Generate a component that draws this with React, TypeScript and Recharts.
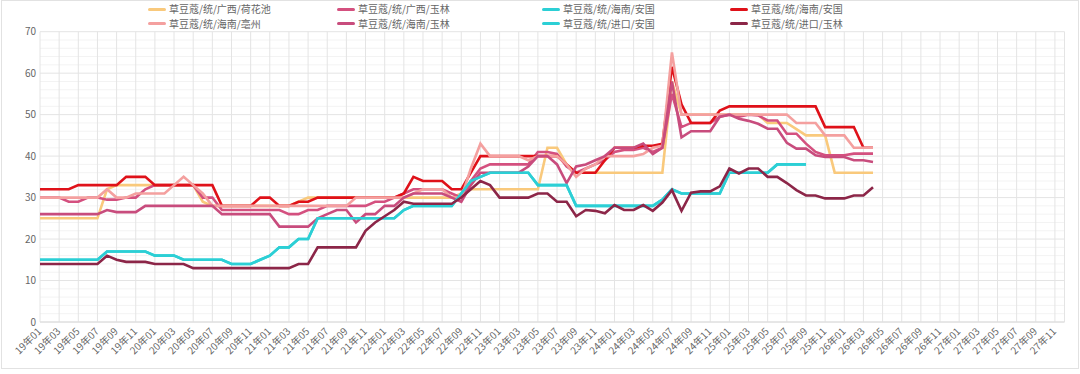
import React from 'react';
import { LineChart, Line, XAxis, YAxis, CartesianGrid, Legend } from 'recharts';

// 19年01 ... 27年12 (monthly categories)
const years = ['19', '20', '21', '22', '23', '24', '25', '26', '27'];
const monthNums = ['01', '02', '03', '04', '05', '06', '07', '08', '09', '10', '11', '12'];
const months = years.flatMap(y => monthNums.map(m => `${y}年${m}`));
const tickLabels = months.filter((_, i) => i % 2 === 0);

const yTicks = [0, 10, 20, 30, 40, 50, 60, 70];
const yMinorTicks = [2, 4, 6, 8, 12, 14, 16, 18, 22, 24, 26, 28, 32, 34, 36, 38, 42, 44, 46, 48, 52, 54, 56, 58, 62, 64, 66, 68];

// series values, 19年01 onwards
const hehuachi = [
  25, 25, 25, 25, 25, 25, 25, 32, 33, 33, 33, 33, 33, 33, 33, 33, 33, 29, 28, 28,
  28, 28, 28, 28, 28, 28, 28, 29, 30, 30, 30, 30, 30, 30, 30, 30, 30, 30, 30, 30,
  30, 30, 30, 30, 31, 32, 32, 32, 32, 32, 32, 32, 32, 42, 42, 38, 36, 36, 36, 36,
  36, 36, 36, 36, 36, 36, 58, 50, 50, 50, 50, 50, 50, 50, 50, 50, 48, 48, 48, 46.5,
  45, 45, 45, 36, 36, 36, 36, 36,
];
const guangxiYulin = [
  30, 30, 30, 29, 29, 30, 30, 29.5, 29.5, 30, 30, 32, 33, 33, 33, 33, 33, 30, 30, 27,
  27, 27, 27, 27, 27, 27, 26, 26, 27, 27, 28, 28, 28, 28, 28, 29, 29, 30, 31, 32,
  32, 32, 32, 31, 30, 34, 37, 38, 38, 38, 38, 38, 41, 41, 40.5, 37.5, 36, 37, 38, 39,
  41, 41.5, 41.5, 42, 41, 42, 55, 47, 48, 48, 48, 49.5, 50, 49.5, 50, 49.8, 48.6, 48.6, 45.4, 45.4,
  43, 41, 40.2, 40.2, 40.2, 40.6, 40.6, 40.6,
];
const hainanAnguoCyan = [
  15, 15, 15, 15, 15, 15, 15, 17, 17, 17, 17, 17, 16, 16, 16, 15, 15, 15, 15, 15,
  14, 14, 14, 15, 16, 18, 18, 20, 20, 25, 25, 25, 25, 25, 25, 25, 25, 25, 27, 28,
  28, 28, 28, 28, 31, 34, 35, 36, 36, 36, 36, 36, 33, 33, 33, 33, 28, 28, 28, 28,
  28, 28, 28, 28, 28, 29.5, 32, 31, 31, 31, 31, 31, 36, 36, 36, 36, 36, 38, 38, 38,
  38,
];
const hainanAnguoRed = [
  32, 32, 32, 32, 33, 33, 33, 33, 33, 35, 35, 35, 33, 33, 33, 33, 33, 33, 33, 28,
  28, 28, 28, 30, 30, 28, 28, 29, 29, 30, 30, 30, 30, 30, 30, 30, 30, 30, 31, 35,
  34, 34, 34, 32, 32, 36, 40, 40, 40, 40, 40, 40, 40, 40, 40, 38, 36, 36, 36, 39,
  42, 42, 42, 42.5, 42.5, 43, 61.5, 52.5, 48, 48, 48, 51, 52, 52, 52, 52, 52, 52, 52, 52,
  52, 52, 47, 47, 47, 47, 42, 42,
];
const haozhou = [
  30, 30, 30, 30, 30, 30, 30, 32, 30, 30, 31, 31, 31, 31, 33, 35, 33, 31, 28, 28,
  28, 28, 28, 28, 28, 28, 28, 28, 28, 28, 28, 28, 28, 30, 30, 30, 30, 30, 30, 31,
  32, 32, 32, 30, 30, 37, 43, 40, 40, 40, 40, 39, 40, 40, 40, 38, 35, 37, 38, 40,
  40, 40, 40, 40.5, 42, 42.5, 65, 50, 50, 50, 50, 50, 50, 50, 50, 50, 50, 50, 50, 48,
  48, 48, 45, 45, 45, 42, 42, 42,
];
const hainanYulin = [
  26, 26, 26, 26, 26, 26, 26, 27, 26.5, 26.5, 26.5, 28, 28, 28, 28, 28, 28, 28, 28, 26,
  26, 26, 26, 26, 26, 23, 23, 23, 23, 25, 26, 27, 27, 24, 26, 26, 28, 28, 30, 31,
  31, 31, 31, 30, 29, 33, 36, 36, 36, 36, 36, 37.5, 40, 40, 38, 33.5, 37.5, 38, 39, 40,
  42, 42, 42, 43, 40.5, 42, 58, 44.5, 46, 46, 46, 49.5, 50, 49, 48.5, 47.8, 46.6, 46.6, 43.2, 41.8,
  41.8, 40.2, 39.8, 39.8, 39.8, 39, 39, 38.6,
];
const jinkouAnguo = [
  15, 15, 15, 15, 15, 15, 15, 17, 17, 17, 17, 17, 16, 16, 16, 15, 15, 15, 15, 15,
  14, 14, 14, 15, 16, 18, 18, 20, 20, 25, 25, 25, 25, 25, 25, 25, 25, 25, 27, 28,
  28, 28, 28, 28, 31, 34, 35, 36, 36, 36, 36, 36, 33, 33, 33, 33, 28, 28, 28, 28,
  28, 28, 28, 28, 28, 29.5, 32, 31, 31, 31, 31, 31, 36, 36, 36, 36, 36, 38, 38, 38,
  38,
];
const jinkouYulin = [
  14, 14, 14, 14, 14, 14, 14, 16, 15, 14.5, 14.5, 14.5, 14, 14, 14, 14, 13, 13, 13, 13,
  13, 13, 13, 13, 13, 13, 13, 14, 14, 18, 18, 18, 18, 18, 22, 24, 25.5, 27, 29, 28.5,
  28.5, 28.5, 28.5, 28.5, 30, 32, 34, 33, 30, 30, 30, 30, 31, 31, 29, 29, 25.5, 27, 26.8, 26.2,
  28.2, 27, 27, 28.2, 26.8, 28.8, 31.8, 26.8, 31.2, 31.5, 31.5, 32.7, 37, 35.8, 37, 37, 35, 35, 33.5, 31.8,
  30.5, 30.5, 29.8, 29.8, 29.8, 30.5, 30.5, 32.5,
];

const series = [
  { key: 'hehuachi', name: '草豆蔻/统/广西/荷花池', color: '#F9C97C', values: hehuachi },
  { key: 'guangxiYulin', name: '草豆蔻/统/广西/玉林', color: '#D4507F', values: guangxiYulin },
  { key: 'hainanAnguoCyan', name: '草豆蔻/统/海南/安国', color: '#2CCFD5', values: hainanAnguoCyan },
  { key: 'hainanAnguoRed', name: '草豆蔻/统/海南/安国', color: '#DF1119', values: hainanAnguoRed },
  { key: 'haozhou', name: '草豆蔻/统/海南/亳州', color: '#F4A09F', values: haozhou },
  { key: 'hainanYulin', name: '草豆蔻/统/海南/玉林', color: '#C84C7D', values: hainanYulin },
  { key: 'jinkouAnguo', name: '草豆蔻/统/进口/安国', color: '#2CCFD5', values: jinkouAnguo },
  { key: 'jinkouYulin', name: '草豆蔻/统/进口/玉林', color: '#8C2648', values: jinkouYulin },
];

const data = months.map((m, i) => {
  const row: Record<string, string | number | null> = { month: m };
  series.forEach(s => { row[s.key] = s.values[i] ?? null; });
  return row;
});

const legendCols = [148, 337, 542, 730];
const font = '"Noto Sans CJK SC", "Noto Sans", sans-serif';

const LegendBox = () => (
  <div style={{ position: 'relative', width: 1080, height: 31.7, fontFamily: font }}>
    {series.map((s, i) => {
      const col = i % 4;
      const row = Math.floor(i / 4);
      return (
        <div key={s.key} style={{ position: 'absolute', left: legendCols[col], top: 2 + row * 14.6, height: 14.5, display: 'flex', alignItems: 'center' }}>
          <span style={{ display: 'inline-block', width: 18, height: 3, borderRadius: 2, background: s.color, marginRight: 3 }} />
          <span style={{ fontSize: 10, color: '#666', lineHeight: '14.5px', whiteSpace: 'nowrap' }}>{s.name}</span>
        </div>
      );
    })}
  </div>
);

const XTick = (props: any) => {
  const { x, y, payload } = props;
  return (
    <text x={x} y={y} dy="0.3em" transform={`rotate(-45, ${x}, ${y})`} textAnchor="end" fontSize={10} fill="#666" fontFamily={font}>
      {payload.value}
    </text>
  );
};

const minorGrid = (args: any) => {
  const { yAxis, offset } = args;
  if (yAxis && typeof yAxis.scale === 'function') return yMinorTicks.map(v => yAxis.scale(v));
  return yMinorTicks.map(v => offset.top + offset.height * (1 - v / 70));
};

export default function App() {
  return (
    <div style={{ position: 'absolute', left: 0, top: 0, width: 1080, height: 374, background: '#fff' }}>
      <div style={{ position: 'absolute', left: 1, top: 0, width: 1076, height: 367, border: '1px solid #e2e2e2' }} />
      <LineChart width={1080} height={374} data={data} margin={{ top: 0, right: 15.5, left: 10, bottom: 5 }}>
        <CartesianGrid vertical={false} stroke="#f3f3f3" horizontalCoordinatesGenerator={minorGrid} />
        <CartesianGrid stroke="#e4e4e4" />
        <XAxis
          dataKey="month"
          ticks={tickLabels}
          interval={0}
          tick={<XTick />}
          tickLine={false}
          axisLine={{ stroke: '#dcdcdc' }}
          height={47}
        />
        <YAxis
          domain={[0, 70]}
          ticks={yTicks}
          width={30}
          tickLine={false}
          axisLine={false}
          tickSize={0}
          tickMargin={4}
          tick={{ fontSize: 10, fill: '#666', fontFamily: font }}
        />
        <Legend verticalAlign="top" content={<LegendBox />} wrapperStyle={{ top: 0, left: 0, width: 1080, height: 31.7 }} />
        {series.map(s => (
          <Line
            key={s.key}
            type="linear"
            dataKey={s.key}
            name={s.name}
            stroke={s.color}
            strokeWidth={2.6}
            dot={false}
            activeDot={false}
            isAnimationActive={false}
          />
        ))}
      </LineChart>
    </div>
  );
}
